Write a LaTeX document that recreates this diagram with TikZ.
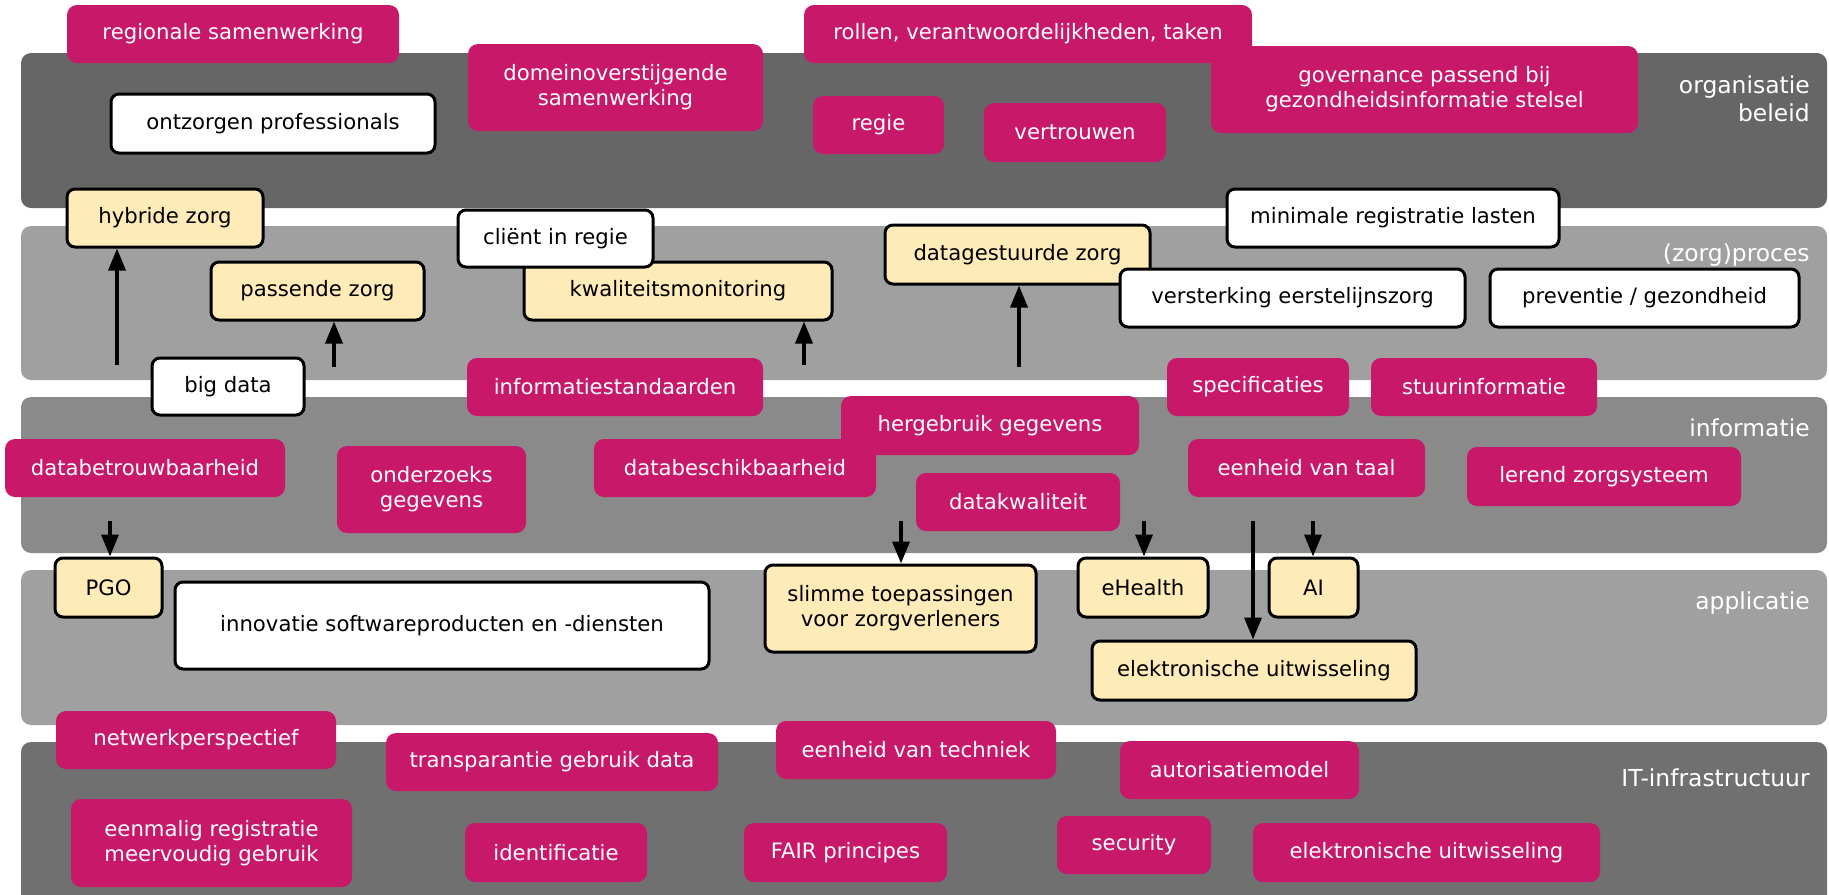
\documentclass[tikz,border=0pt]{standalone}
\usepackage{fontspec}
\setmainfont{DejaVu Sans}
\usepackage{tikz}
\usetikzlibrary{arrows.meta, positioning}

\definecolor{pinkbox}{HTML}{C8186A}
\definecolor{yelbox}{HTML}{FFEBB8}
\definecolor{layorg}{HTML}{666666}
\definecolor{layproc}{HTML}{A0A0A0}
\definecolor{layinfo}{HTML}{8A8A8A}
\definecolor{layapp}{HTML}{A0A0A0}
\definecolor{layit}{HTML}{707070}

\begin{document}
\begin{tikzpicture}[
  x=0.5pt, y=-0.5pt,
  every node/.style={font=\fontsize{10.6}{12.5}\selectfont, align=center, inner sep=0pt},
  layer/.style={rounded corners=5pt},
  pinkbox/.style={rectangle, rounded corners=5pt, fill=pinkbox, text=white},
  whitebox/.style={rectangle, rounded corners=4pt, draw=black, line width=1.5pt, fill=white},
  yellowbox/.style={rectangle, rounded corners=4pt, draw=black, line width=1.5pt, fill=yelbox},
  layer label/.style={anchor=east, align=right, text=white, font=\fontsize{11.7}{14}\selectfont},
  arr/.style={line width=1.8pt, -{Triangle[length=11pt, width=8.5pt]}}
]
\useasboundingbox (0,0) rectangle (1829,894);

\fill[layer, layorg] (21,53) rectangle (1827,208);
\fill[layer, layproc] (21,226) rectangle (1827,380);
\fill[layer, layinfo] (21,397) rectangle (1827,553);
\fill[layer, layapp] (21,570) rectangle (1827,725);
\fill[layer, layit] (21,742) rectangle (1827,910);

\node[layer label] (lorg) at (1810,99) {organisatie\\beleid};
\node[layer label] (lproc) at (1810,255) {(zorg)proces};
\node[layer label] (linfo) at (1810,428) {informatie};
\node[layer label] (lapp) at (1810,603) {applicatie};
\node[layer label] (lit) at (1810,778) {IT-infrastructuur};

\node[pinkbox, minimum width=166pt, minimum height=29pt] (regsam) at (233,34) {regionale samenwerking};
\node[pinkbox, minimum width=224pt, minimum height=29pt] (rollen) at (1028,34) {rollen, verantwoordelijkheden, taken};
\node[pinkbox, minimum width=147.5pt, minimum height=43.5pt] (domein) at (615.5,87.5) {domeinoverstijgende\\samenwerking};
\node[pinkbox, minimum width=213.5pt, minimum height=43.5pt] (govern) at (1424.5,89.5) {governance passend bij\\gezondheidsinformatie stelsel};
\node[pinkbox, minimum width=65.5pt, minimum height=29pt] (regie) at (878.5,125) {regie};
\node[pinkbox, minimum width=91pt, minimum height=29.5pt] (vertr) at (1075,132.5) {vertrouwen};
\node[pinkbox, minimum width=148pt, minimum height=29pt] (infstd) at (615,387) {informatiestandaarden};
\node[pinkbox, minimum width=91pt, minimum height=29pt] (spec) at (1258,387) {specificaties};
\node[pinkbox, minimum width=113pt, minimum height=29pt] (stuur) at (1484,387) {stuurinformatie};
\node[pinkbox, minimum width=149pt, minimum height=29.5pt] (herg) at (990,425.5) {hergebruik gegevens};
\node[pinkbox, minimum width=140pt, minimum height=29pt] (dbetr) at (145,468) {databetrouwbaarheid};
\node[pinkbox, minimum width=94.5pt, minimum height=43.5pt] (onderz) at (431.5,489.5) {onderzoeks\\gegevens};
\node[pinkbox, minimum width=141pt, minimum height=29pt] (dbesch) at (735,468) {databeschikbaarheid};
\node[pinkbox, minimum width=102pt, minimum height=29pt] (dkwal) at (1018,502) {datakwaliteit};
\node[pinkbox, minimum width=118.5pt, minimum height=29pt] (taal) at (1306.5,468) {eenheid van taal};
\node[pinkbox, minimum width=137pt, minimum height=29.5pt] (lerend) at (1604,476.5) {lerend zorgsysteem};
\node[pinkbox, minimum width=140pt, minimum height=29pt] (netw) at (196,740) {netwerkperspectief};
\node[pinkbox, minimum width=166pt, minimum height=29pt] (transp) at (552,762) {transparantie gebruik data};
\node[pinkbox, minimum width=140pt, minimum height=29pt] (techn) at (916,750) {eenheid van techniek};
\node[pinkbox, minimum width=119.5pt, minimum height=29pt] (autor) at (1239.5,770) {autorisatiemodel};
\node[pinkbox, minimum width=140.5pt, minimum height=44pt] (eenm) at (211.5,843) {eenmalig registratie\\meervoudig gebruik};
\node[pinkbox, minimum width=91pt, minimum height=29.5pt] (ident) at (556,852.5) {identificatie};
\node[pinkbox, minimum width=101.5pt, minimum height=29.5pt] (fair) at (845.5,852.5) {FAIR principes};
\node[pinkbox, minimum width=77pt, minimum height=29pt] (secur) at (1134,845) {security};
\node[pinkbox, minimum width=173.5pt, minimum height=29.5pt] (elekit) at (1426.5,852.5) {elektronische uitwisseling};

\node[whitebox, minimum width=162pt, minimum height=29.5pt] (ontz) at (273,123.5) {ontzorgen professionals};
\node[yellowbox, minimum width=98pt, minimum height=29pt] (hybr) at (165,218) {hybride zorg};
\node[yellowbox, minimum width=106.5pt, minimum height=29pt] (pass) at (317.5,291) {passende zorg};
\node[yellowbox, minimum width=154pt, minimum height=29pt] (kwal) at (678,291) {kwaliteitsmonitoring};
\node[whitebox, minimum width=97.5pt, minimum height=28.5pt] (client) at (555.5,238.5) {cliënt in regie};
\node[yellowbox, minimum width=132.5pt, minimum height=29.5pt] (datag) at (1017.5,254.5) {datagestuurde zorg};
\node[whitebox, minimum width=166pt, minimum height=29pt] (minreg) at (1393,218) {minimale registratie lasten};
\node[whitebox, minimum width=172.5pt, minimum height=29pt] (verst) at (1292.5,298) {versterking eerstelijnszorg};
\node[whitebox, minimum width=154.5pt, minimum height=29pt] (prev) at (1644.5,298) {preventie / gezondheid};
\node[whitebox, minimum width=76pt, minimum height=28.5pt] (bigdata) at (228,386.5) {big data};
\node[yellowbox, minimum width=53.5pt, minimum height=29.5pt] (pgo) at (108.5,587.5) {PGO};
\node[whitebox, minimum width=267pt, minimum height=43.5pt] (innov) at (442,625.5) {innovatie softwareproducten en -diensten};
\node[yellowbox, minimum width=135.5pt, minimum height=43.5pt] (slim) at (900.5,608.5) {slimme toepassingen\\voor zorgverleners};
\node[yellowbox, minimum width=65pt, minimum height=29.5pt] (ehealth) at (1143,587.5) {eHealth};
\node[yellowbox, minimum width=44.5pt, minimum height=29.5pt] (ai) at (1313.5,587.5) {AI};
\node[yellowbox, minimum width=162pt, minimum height=29.5pt] (elekapp) at (1254,670.5) {elektronische uitwisseling};

\coordinate (hybrtail) at (117,365);
\coordinate (passtail) at (334,367);
\coordinate (kwaltail) at (804,365);
\coordinate (datagtail) at (1019,367);
\coordinate (pgotail) at (110,521);
\coordinate (slimtail) at (901,521);
\coordinate (ehealthtail) at (1144,521);
\coordinate (elekapptail) at (1253,521);
\coordinate (aitail) at (1313,521);

\draw[arr] (hybrtail) -- (hybrtail |- hybr.south);
\draw[arr] (passtail) -- (passtail |- pass.south);
\draw[arr] (kwaltail) -- (kwaltail |- kwal.south);
\draw[arr] (datagtail) -- (datagtail |- datag.south);
\draw[arr] (pgotail) -- (pgotail |- pgo.north);
\draw[arr] (slimtail) -- (slimtail |- slim.north);
\draw[arr] (ehealthtail) -- (ehealthtail |- ehealth.north);
\draw[arr] (elekapptail) -- (elekapptail |- elekapp.north);
\draw[arr] (aitail) -- (aitail |- ai.north);

\end{tikzpicture}
\end{document}
